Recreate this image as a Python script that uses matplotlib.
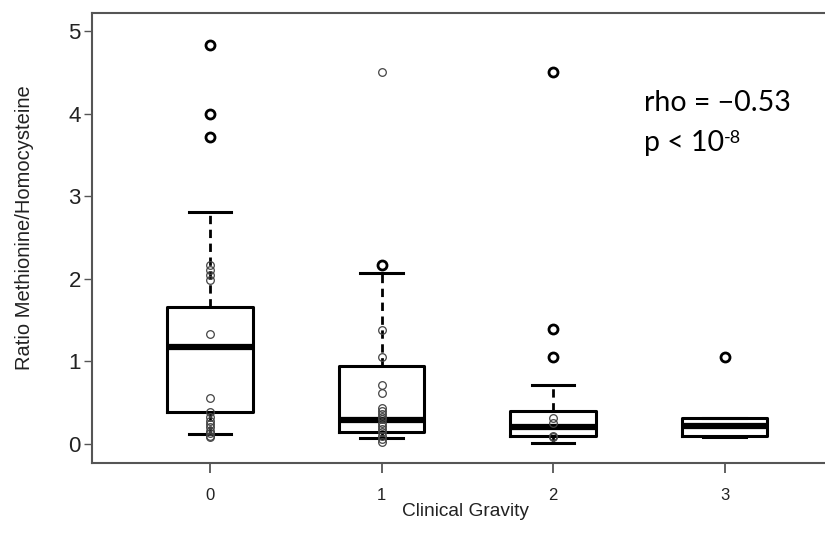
import matplotlib
matplotlib.use('Agg')
import matplotlib.pyplot as plt

# clinical gravity groups
groups = ['0', '1', '2', '3']

# box statistics
whisk_lo = [0.12, 0.07, 0.01, 0.09]
q1 = [0.39, 0.14, 0.10, 0.10]
med = [1.17, 0.29, 0.21, 0.22]
q3 = [1.66, 0.94, 0.40, 0.31]
whisk_hi = [2.81, 2.07, 0.71, 0.32]

# outliers drawn by the boxplot (bold circles)
outliers = [
    [4.83, 4.00, 3.72],
    [2.17],
    [4.50, 1.39, 1.05],
    [1.05],
]

# individual values overlaid (thin circles)
points = [
    [2.17, 2.11, 2.05, 1.99, 1.33, 0.56, 0.39, 0.33, 0.28, 0.24, 0.20, 0.16, 0.13, 0.10, 0.08],
    [4.50, 1.38, 1.05, 0.72, 0.62, 0.44, 0.40, 0.36, 0.33, 0.30, 0.26, 0.22, 0.18, 0.14, 0.10, 0.06, 0.02],
    [0.32, 0.26, 0.10, 0.08],
    [],
]

yticks = [0, 1, 2, 3, 4, 5]

plt.rcParams['font.family'] = ['Liberation Sans', 'DejaVu Sans']

fig = plt.figure(figsize=(8.25, 5.45), dpi=100)
ax = fig.add_axes([92 / 825, 82 / 545, 744 / 825, 450 / 545])

stats = []
for i in range(len(groups)):
    stats.append({'whislo': whisk_lo[i], 'q1': q1[i], 'med': med[i], 'q3': q3[i],
                  'whishi': whisk_hi[i], 'fliers': outliers[i], 'label': groups[i]})

pos = list(range(len(groups)))
ax.bxp(stats, positions=pos, widths=0.5, capwidths=0.25,
       boxprops=dict(color='black', linewidth=2.2),
       medianprops=dict(color='black', linewidth=4.5, solid_capstyle='butt'),
       whiskerprops=dict(color='black', linewidth=2.0, linestyle=(0, (3, 2))),
       capprops=dict(color='black', linewidth=2.2),
       flierprops=dict(marker='o', markersize=6.5, markerfacecolor='none',
                       markeredgecolor='black', markeredgewidth=2.0))

for i, vals in enumerate(points):
    ax.plot([pos[i]] * len(vals), vals, linestyle='none', marker='o', markersize=5.5,
            markerfacecolor='none', markeredgecolor='#444444', markeredgewidth=0.9, zorder=4)

ax.set_xlim(-0.688, 3.65)
ax.set_ylim(-0.23, 5.22)
ax.set_yticks(yticks)
ax.set_xticks(pos)
ax.set_xticklabels(groups)

for s in ax.spines.values():
    s.set_color('#555555')
    s.set_linewidth(1.5)

ax.tick_params(axis='x', length=7, width=1.3, color='#555555', pad=11, labelsize=12, labelcolor='#222222')
ax.tick_params(axis='y', length=6, width=1.0, color='#555555', pad=2, labelsize=16, labelcolor='#222222')

fig.text(25 / 825, 1 - 228 / 545, 'Ratio Methionine/Homocysteine', rotation=90,
         ha='center', va='center', fontsize=14.5, color='#222222')
fig.text(465 / 825, 1 - 512 / 545, 'Clinical Gravity', ha='center', va='center',
         fontsize=13.8, color='#222222')

# correlation note, superscript placed right after "10"
ax.text(2.53, 4.13, 'rho = \u22120.53', fontsize=20.5, family='Lato', ha='left', va='center')
t = ax.text(2.53, 3.65, 'p < 10', fontsize=20.5, family='Lato', ha='left', va='center')
fig.canvas.draw()
bb = t.get_window_extent(fig.canvas.get_renderer())
fig.text(bb.x1 / fig.bbox.width, (bb.y1 - 8) / fig.bbox.height, '-8', fontsize=13,
         family='Lato', ha='left', va='center', transform=fig.transFigure)

fig.savefig('out.png', dpi=100)
